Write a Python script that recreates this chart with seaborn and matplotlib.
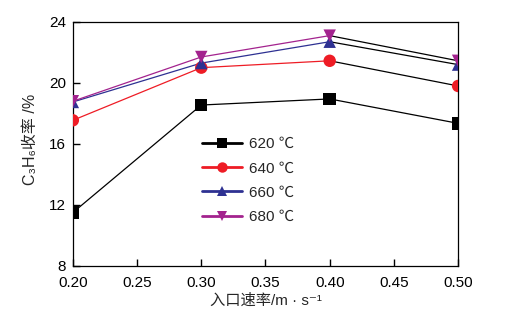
import matplotlib
matplotlib.use("Agg")
import matplotlib.pyplot as plt
from matplotlib.lines import Line2D
import pandas as pd
import seaborn as sns

# Inlet velocity (m/s) and C3H6 yield (%) at each reaction temperature
speeds = [0.20, 0.30, 0.40, 0.50]
temps = ["620 ℃", "640 ℃", "660 ℃", "680 ℃"]
y620 = [11.5, 18.55, 18.95, 17.35]
y640 = [17.55, 21.0, 21.45, 19.8]
y660 = [18.75, 21.3, 22.7, 21.2]
y680 = [18.8, 21.7, 23.1, 21.45]
xticks = [0.20, 0.25, 0.30, 0.35, 0.40, 0.45, 0.50]
yticks = [8, 12, 16, 20, 24]

colors = ["#000000", "#ee1c25", "#2e3192", "#a3238e"]
markers = ["s", "o", "^", "v"]

sns.set_style("ticks")
plt.rcParams["font.family"] = ["Liberation Sans", "Noto Sans CJK SC", "DejaVu Sans"]

rows = []
for t, ys in zip(temps, [y620, y640, y660, y680]):
    for x, y in zip(speeds, ys):
        rows.append({"speed": x, "yield": y, "temp": t})
df = pd.DataFrame(rows)

fig = plt.figure(figsize=(5.13, 3.22), dpi=100)
ax = fig.add_axes([0.142, 0.174, 0.751, 0.758])

palette = dict(zip(temps, colors))
head = df[df["speed"] <= 0.40]
tail = df[df["speed"] >= 0.40]

# coloured segments up to 0.40 m/s, black segments beyond
sns.lineplot(data=head, x="speed", y="yield", hue="temp", palette=palette,
             units="temp", estimator=None, lw=0.9, legend=False, ax=ax, zorder=2)
sns.lineplot(data=tail, x="speed", y="yield", units="temp", estimator=None,
             color="black", lw=0.9, legend=False, ax=ax, zorder=2)
sns.scatterplot(data=df, x="speed", y="yield", hue="temp", style="temp",
                palette=palette, markers=dict(zip(temps, markers)), s=80,
                linewidth=0, legend=False, ax=ax, zorder=3)

ax.set_xlim(0.20, 0.50)
ax.set_ylim(8, 24)
ax.set_xticks(xticks)
ax.set_xticklabels([f"{v:.2f}" for v in xticks])
ax.set_yticks(yticks)
ax.tick_params(direction="in", length=5, width=1, labelsize=11, colors="black",
               top=False, right=False)
ax.tick_params(axis="x", pad=7)
ax.tick_params(axis="y", pad=5)
for s in ax.spines.values():
    s.set_linewidth(0.9)
    s.set_color("black")

ax.set_xlabel("入口速率/m · s⁻¹", fontsize=11, labelpad=3)
ax.set_ylabel("C₃H₆收率 /%", fontsize=11.5)
ax.yaxis.set_label_coords(-0.09, 0.52)

handles = [Line2D([], [], color=c, marker=m, lw=2, markersize=7.5, markeredgewidth=0)
           for c, m in zip(colors, markers)]
ax.legend(handles, temps, loc="center left", bbox_to_anchor=(0.335, 0.35),
          frameon=False, fontsize=11, handlelength=2.6, handletextpad=0.5,
          labelspacing=0.67, borderpad=0, borderaxespad=0)

fig.savefig("out.png", dpi=100)
